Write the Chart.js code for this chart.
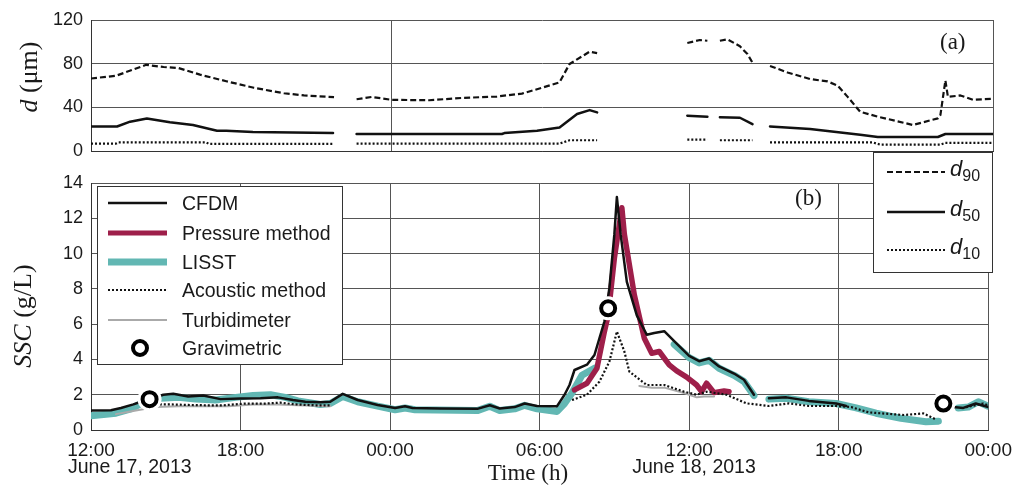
<!DOCTYPE html>
<html>
<head>
<meta charset="utf-8">
<title>SSC and grain size, June 17-18 2013</title>
<script src="https://cdn.jsdelivr.net/npm/chart.js@4.4.1/dist/chart.umd.min.js"></script>
<style>
  body { margin: 0; background: #fff; width: 1021px; height: 487px; position: relative; overflow: hidden;
         font-family: "Liberation Sans", Arial, sans-serif; color: #1a1a1a; }
  canvas { position: absolute; left: 0; }
  #chartA { top: 0; }
  #chartB { top: 160px; }
  .box { position: absolute; background: #fff; border: 1px solid #333; box-sizing: border-box; }
  .txt { position: absolute; white-space: nowrap; }
  .serif { font-family: "Liberation Serif", "Times New Roman", serif; }
  .leg { font-size: 19.5px; line-height: 24px; }
  .rot { transform: translate(-50%, -50%) rotate(-90deg); }
  svg.ov { position: absolute; left: 0; top: 0; }
</style>
</head>
<body>
<canvas id="chartA" width="1021" height="170"></canvas>
<canvas id="chartB" width="1021" height="327"></canvas>

<div class="box" style="left:97px;top:186px;width:246px;height:179px;"></div>
<div class="box" style="left:873px;top:152px;width:120px;height:121px;"></div>

<svg class="ov" width="1021" height="487">
  <line x1="108" y1="203" x2="167" y2="203" stroke="#111" stroke-width="2.5"/>
  <line x1="108" y1="233" x2="167" y2="233" stroke="#9e1f4a" stroke-width="5"/>
  <line x1="108" y1="262" x2="167" y2="262" stroke="#62b7b3" stroke-width="7"/>
  <line x1="108" y1="290" x2="167" y2="290" stroke="#111" stroke-width="2" stroke-dasharray="2 2"/>
  <line x1="108" y1="320" x2="167" y2="320" stroke="#aaa" stroke-width="2"/>
  <circle cx="140" cy="348" r="7" fill="#fff" stroke="#000" stroke-width="4"/>
  <line x1="887" y1="172" x2="945" y2="172" stroke="#111" stroke-width="2" stroke-dasharray="6 3"/>
  <line x1="887" y1="212" x2="945" y2="212" stroke="#111" stroke-width="2.5"/>
  <line x1="887" y1="250" x2="945" y2="250" stroke="#111" stroke-width="2" stroke-dasharray="2 2"/>
</svg>

<div class="txt leg" style="left:182px;top:191px;">CFDM</div>
<div class="txt leg" style="left:182px;top:221px;">Pressure method</div>
<div class="txt leg" style="left:182px;top:250px;">LISST</div>
<div class="txt leg" style="left:182px;top:278px;">Acoustic method</div>
<div class="txt leg" style="left:182px;top:308px;">Turbidimeter</div>
<div class="txt leg" style="left:182px;top:336px;">Gravimetric</div>

<div class="txt" style="left:950px;top:156px;font-size:22px;font-style:italic;">d<sub style="font-size:16px;font-style:normal;">90</sub></div>
<div class="txt" style="left:950px;top:196px;font-size:22px;font-style:italic;">d<sub style="font-size:16px;font-style:normal;">50</sub></div>
<div class="txt" style="left:950px;top:234px;font-size:22px;font-style:italic;">d<sub style="font-size:16px;font-style:normal;">10</sub></div>

<div class="txt serif" style="left:940px;top:29px;font-size:23px;">(a)</div>
<div class="txt serif" style="left:795px;top:185px;font-size:23px;">(b)</div>

<div class="txt serif rot" style="left:29px;top:77px;font-size:26px;"><i>d</i> (μm)</div>
<div class="txt serif rot" style="left:23px;top:316px;font-size:26px;"><i>SSC</i> (g/L)</div>

<div class="txt" style="left:68px;top:455px;font-size:19.5px;">June 17, 2013</div>
<div class="txt" style="left:694px;top:455px;font-size:19.5px;transform:translateX(-50%);">June 18, 2013</div>
<div class="txt serif" style="left:528px;top:460px;font-size:23px;transform:translateX(-50%);">Time (h)</div>

<script>
// x values are hours after 12:00, June 17, 2013
const TIME_LABELS = ['12:00', '18:00', '00:00', '06:00', '12:00', '18:00', '00:00'];
const D_TICKS = [0, 40, 80, 120];
const SSC_TICKS = [0, 2, 4, 6, 8, 10, 12, 14];

// (a) grain size, µm (null = no data)
const d90Time = [0, 1.0, 1.6, 2.2, 2.9, 3.5, 4.35, 5.4, 6.5, 7.7, 8.5, 9.7, 10.1, 10.6, 11.2, 12, 13.5, 14.8, 16.2, 17.2,
  18.0, 18.7, 19.1, 19.9, 20.2, 22, 23.8, 24.3, 24.6, 24.85, 25.1, 25.4, 25.9, 26.2, 26.4, 26.75, 27.1, 27.8, 28.7, 29.4,
  29.8, 30.2, 30.7, 31.4, 32.8, 33.8, 33.9, 34.1, 34.2, 34.7, 35.2, 36];
const d90Value = [66.5, 69, 74, 79, 77, 76, 70, 64, 58, 53, 51, 49.5, null, 47.5, 49.6, 47, 46.6, 48.7, 50, 52.7,
  58, 63, 79.8, 91, 89.7, null, 99, 101.7, 101, null, 101, 102.3, 96, 88.8, 81, null, 78, 72, 66, 63.8,
  60, 49.7, 36, 31.6, 24, 30, 33, 64.7, 49.7, 51, 47, 48];

const d50Time = [0, 1.04, 1.56, 2.23, 3.15, 4.07, 5.03, 5.4, 6.46, 9.66, 10.1, 10.6, 16.4, 16.5, 17.8, 18.7, 19.4, 19.9, 20.2, 22,
  23.8, 24.6, 24.85, 25.1, 25.9, 26.4, 26.75, 27.1, 28.7, 30.7, 31.4, 33.8, 34.1, 36];
const d50Value = [22.6, 22.6, 27, 30, 26.5, 24, 18.7, 18.7, 17.5, 16.6, null, 15.7, 15.7, 16.6, 18.7, 21.7, 34, 37.6, 35.5, null,
  32.5, 31.6, null, 31, 30.6, 24.7, null, 22.6, 20.2, 15, 13, 13, 15.7, 15.7];

const d10Time = [0, 1.0, 1.1, 4.6, 4.7, 9.66, 10.1, 10.6, 18.7, 19.1, 20.2, 22, 23.8, 24.6, 24.85, 25.1, 26.4, 26.75, 27.1, 31.2,
  31.5, 33.9, 34.1, 36];
const d10Value = [7, 7, 8.1, 8.1, 6.7, 6.7, null, 7, 7, 10, 10, null, 10.5, 10.5, null, 10, 10, null, 8, 8,
  6, 6, 7.6, 7.6];

// (b) suspended sediment concentration, g/L
const cfdmTime = [0, 0.8, 1.2, 1.7, 2.0, 2.4, 2.9, 3.3, 3.9, 4.5, 5.2, 6.0, 6.8, 7.5, 8.1, 8.6, 9.2, 9.6, 10.1, 10.7,
  11.5, 12.2, 12.6, 12.9, 14.0, 15.5, 16.0, 16.4, 17.0, 17.4, 17.9, 18.7, 19.0, 19.2, 19.4, 19.9, 20.2, 20.4, 20.6, 20.8,
  21.0, 21.1, 21.25, 21.5, 21.9, 22.3, 22.6, 23.0, 23.5, 24.0, 24.4, 24.8, 25.2, 25.8, 26.2, 26.6, 26.9, 27.2, 27.9, 28.8,
  29.9, 30.3, 32, 34.6, 35.0, 35.5, 36];
const cfdmSSC = [1.1, 1.12, 1.25, 1.45, 1.6, 1.75, 2.0, 2.05, 1.9, 1.95, 1.75, 1.78, 1.8, 1.85, 1.7, 1.6, 1.57, 1.6, 2.05, 1.7,
  1.42, 1.25, 1.35, 1.25, 1.22, 1.2, 1.4, 1.22, 1.3, 1.5, 1.36, 1.35, 2.0, 2.55, 3.4, 3.7, 4.25, 5.2, 6.15, 8.05,
  11.1, 13.2, 11.1, 8.4, 6.5, 5.4, 5.5, 5.6, 4.9, 4.2, 3.9, 4.05, 3.6, 3.2, 2.85, 2.0, null, 1.8, 1.85, 1.65,
  1.5, 1.36, null, 1.3, 1.25, 1.5, 1.3];

const pressureTime = [19.4, 19.9, 20.3, 20.6, 20.75, 21.0, 21.3, 21.4, 21.8, 22.2, 22.5, 22.8, 23.2, 23.5, 23.9, 24.3, 24.5, 24.7, 25.0, 25.4, 25.6];
const pressureSSC = [2.27, 2.65, 3.5, 5.58, 6.5, 9.74, 12.6, 11.1, 7.66, 5.2, 4.35, 4.45, 3.69, 3.35, 3.0, 2.55, 2.17, 2.65, 2.12, 2.21, 2.17];

const lisstTime = [0, 1.0, 1.6, 2.0, 2.8, 3.5, 4.2, 5.0, 5.8, 6.5, 7.2, 7.8, 8.3, 9.2, 9.6, 10.1, 10.7, 11.5, 12.2, 12.6,
  13.0, 15.5, 16.0, 16.4, 17.0, 17.4, 17.9, 18.7, 19.0, 19.3, 19.7, 20.2, 21.5, 23.4, 24.0, 24.4, 24.8, 25.2, 25.8, 26.2,
  26.6, 26.9, 27.2, 27.9, 28.8, 29.9, 30.7, 31.5, 32.5, 33.5, 34.0, 34.4, 34.8, 35.2, 35.6, 36];
const lisstSSC = [0.8, 0.95, 1.2, 1.5, 1.8, 1.85, 1.75, 1.7, 1.85, 1.95, 2.0, 1.85, 1.65, 1.45, 1.5, 1.9, 1.6, 1.35, 1.15, 1.25,
  1.15, 1.1, 1.35, 1.1, 1.2, 1.4, 1.2, 1.05, 1.5, 2.1, 3.1, 3.5, null, 4.85, 4.1, 3.8, 3.95, 3.5, 3.1, 2.75,
  1.95, null, 1.75, 1.8, 1.6, 1.5, 1.25, 0.95, 0.66, 0.47, 0.5, null, 1.25, 1.3, 1.6, 1.35];

const acousticTime = [2.6, 3.2, 3.9, 4.6, 5.3, 6.2, 7.0, 7.6, 8.2, 9.0, 9.6, 14, 19.3, 19.9, 20.4, 20.8, 21.1, 21.4, 21.6, 22.3,
  23.0, 23.8, 24.3, 24.7, 25.5, 26.3, 27.2, 28.0, 28.8, 29.9, 30.5, 31.2, 32.6, 33.4, 33.9, 34.5, 35.1, 35.8, 36];
const acousticSSC = [1.45, 1.45, 1.42, 1.4, 1.4, 1.5, 1.5, 1.55, 1.45, 1.4, 1.4, null, 1.7, 2.0, 2.74, 3.88, 5.58, 4.45, 3.31, 2.55,
  2.55, 2.17, 2.0, 2.17, 2.0, 1.51, 1.36, 1.51, 1.36, 1.36, 1.3, 1.0, 0.85, 0.94, 0.6, null, 1.29, 1.5, 1.4];

const turbTime = [1.0, 1.8, 2.6, 3.5, 4.5, 5.5, 6.5, 7.5, 8.3, 9.6, 15, 22.0, 22.5, 23.0, 23.8, 24.3, 24.6, 25.0];
const turbSSC = [0.9, 1.1, 1.3, 1.35, 1.35, 1.35, 1.45, 1.45, 1.4, 1.35, null, 2.5, 2.4, 2.4, 2.1, 1.85, 1.9, 1.9];

const gravTime = [2.35, 20.75, 34.2];
const gravSSC = [1.75, 6.9, 1.5];

const GRID = '#555';
const CRIMSON = '#9e1f4a';
const TEAL = '#62b7b3';

Chart.defaults.font.family = '"Liberation Sans", Arial, sans-serif';
Chart.defaults.font.size = 18;
Chart.defaults.color = '#1a1a1a';

function toPoints(times, values) {
  return times.map((t, i) => ({ x: t, y: values[i] }));
}

function lineSet(times, values, color, width, dash, order) {
  return {
    data: toPoints(times, values),
    borderColor: color,
    borderWidth: width,
    borderDash: dash || [],
    borderJoinStyle: 'round',
    borderCapStyle: dash ? 'butt' : 'round',
    pointRadius: 0,
    fill: false,
    tension: 0,
    order: order
  };
}

function timeAxis(showLabels, gridFilter) {
  return {
    type: 'linear',
    min: 0,
    max: 36,
    ticks: {
      display: showLabels,
      stepSize: 6,
      padding: 9,
      font: { size: 19 },
      maxRotation: 0,
      callback: (value) => TIME_LABELS[Math.round(value / 6)]
    },
    grid: {
      drawTicks: false,
      color: (ctx) => gridFilter(ctx.tick ? ctx.tick.value : null) ? GRID : 'rgba(0,0,0,0)'
    },
    border: { display: true, color: '#333', width: 1 },
    afterFit: (scale) => { scale.height = showLabels ? 57 : 0; }
  };
}

function valueAxis(ticks) {
  return {
    type: 'linear',
    min: ticks[0],
    max: ticks[ticks.length - 1],
    afterBuildTicks: (scale) => { scale.ticks = ticks.map(v => ({ value: v })); },
    ticks: { padding: 8 },
    grid: { drawTicks: false, color: GRID },
    border: { display: true, color: '#333', width: 1 },
    afterFit: (scale) => { scale.width = 91; }
  };
}

const commonOptions = {
  responsive: false,
  animation: false,
  devicePixelRatio: 1,
  plugins: { legend: { display: false }, tooltip: { enabled: false } },
  events: []
};

// (a) grain size panel
new Chart(document.getElementById('chartA'), {
  type: 'line',
  data: {
    datasets: [
      lineSet(d90Time, d90Value, '#111', 2.2, [6, 3], 0),
      lineSet(d50Time, d50Value, '#111', 2.5, null, 1),
      lineSet(d10Time, d10Value, '#111', 2.2, [2, 2], 2)
    ]
  },
  options: Object.assign({}, commonOptions, {
    layout: { padding: { left: 0, right: 28, top: 20, bottom: 18 } },
    scales: {
      x: timeAxis(false, v => v === 12 || v === 36),
      y: valueAxis(D_TICKS)
    }
  })
});

// (b) SSC panel
const gravPoints = toPoints(gravTime, gravSSC);
new Chart(document.getElementById('chartB'), {
  type: 'line',
  data: {
    datasets: [
      {
        data: gravPoints, showLine: false, order: 0,
        pointRadius: 7, pointBorderWidth: 4,
        pointBackgroundColor: '#fff', pointBorderColor: '#000'
      },
      {
        // white halo that clears the lines under each gravimetric sample
        data: gravPoints, showLine: false, order: 1,
        pointRadius: 12, pointBorderWidth: 0,
        pointBackgroundColor: '#fff', pointBorderColor: '#fff'
      },
      lineSet(cfdmTime, cfdmSSC, '#111', 2.5, null, 2),
      lineSet(acousticTime, acousticSSC, '#111', 2.2, [2, 2], 3),
      lineSet(pressureTime, pressureSSC, CRIMSON, 5.5, null, 4),
      lineSet(turbTime, turbSSC, '#aaa', 2, null, 5),
      lineSet(lisstTime, lisstSSC, TEAL, 7, null, 6)
    ]
  },
  options: Object.assign({}, commonOptions, {
    layout: { padding: { left: 0, right: 28, top: 23, bottom: 0 } },
    scales: {
      x: timeAxis(true, v => v !== null),
      y: valueAxis(SSC_TICKS)
    }
  })
});
</script>
</body>
</html>
